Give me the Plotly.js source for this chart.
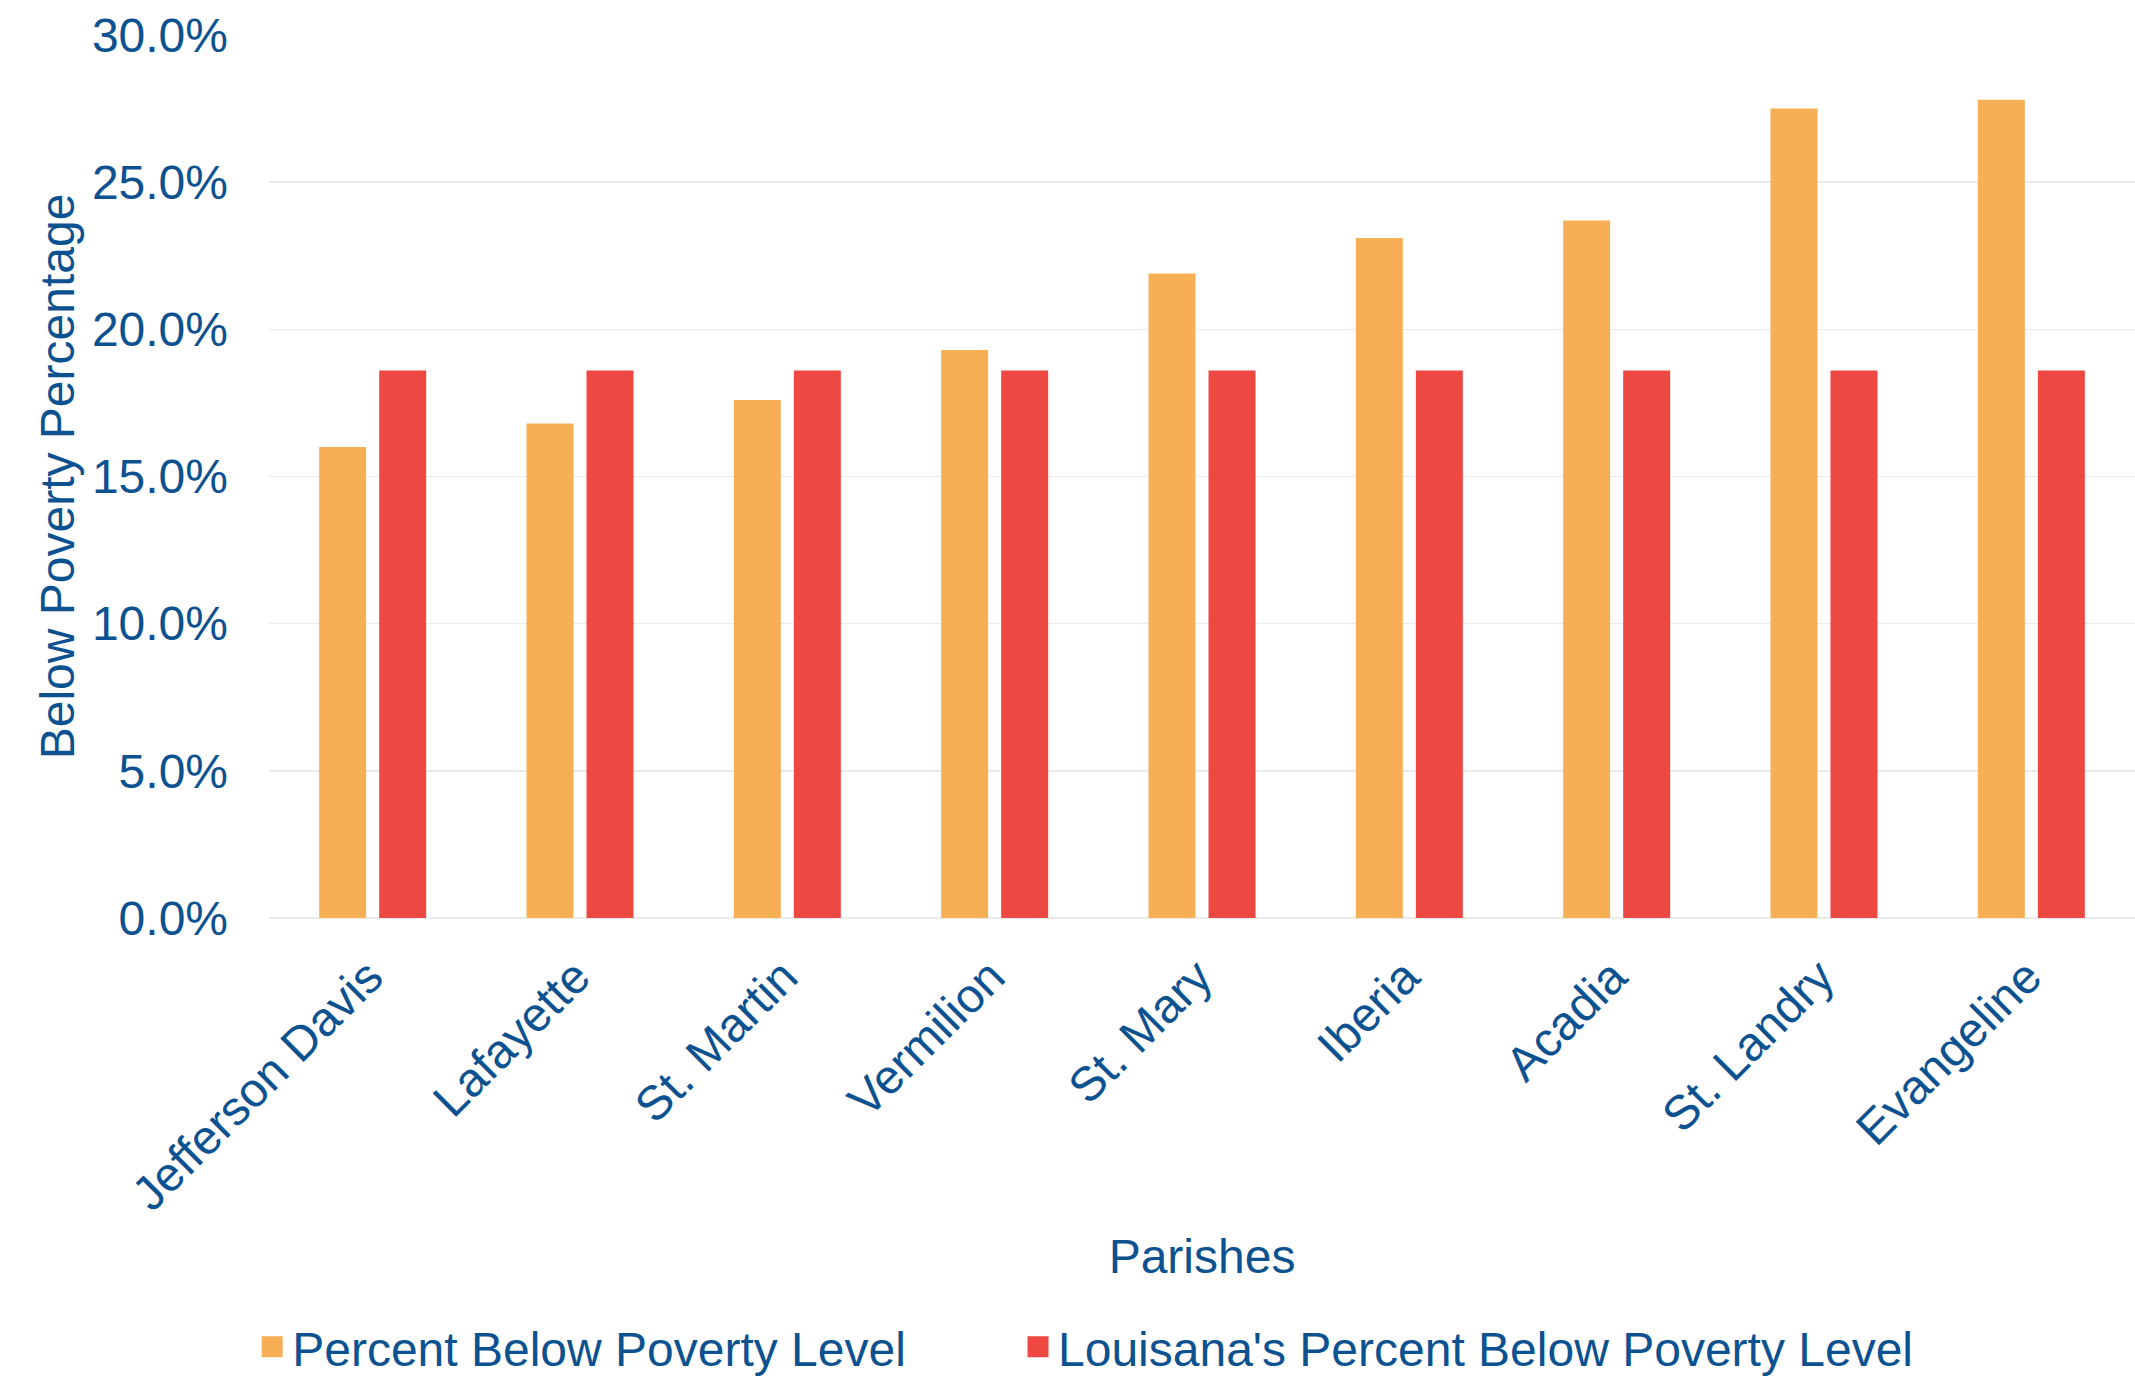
<!DOCTYPE html>
<html>
<head>
<meta charset="utf-8">
<script src="https://cdn.plot.ly/plotly-3.0.1.min.js"></script>
<style>html,body{margin:0;padding:0;background:#fff;}#chart{width:2135px;height:1377px;}</style>
</head>
<body>
<div id="chart"></div>
<script>
var parishes = ["Jefferson Davis", "Lafayette", "St. Martin", "Vermilion", "St. Mary", "Iberia", "Acadia", "St. Landry", "Evangeline"];
var parishPoverty = [16.0, 16.8, 17.6, 19.3, 21.9, 23.1, 23.7, 27.5, 27.8];
var louisianaPoverty = [18.6, 18.6, 18.6, 18.6, 18.6, 18.6, 18.6, 18.6, 18.6];
var seriesNames = ["Percent Below Poverty Level", "Louisana's Percent Below Poverty Level"];
var yTicks = [0, 5, 10, 15, 20, 25, 30];
var yTickText = yTicks.map(function (v) { return v.toFixed(1) + "%"; });

var textColor = "#0d5290";
var fontFam = "Liberation Sans, Arial, sans-serif";
var fontSize = 48;
var orange = "#F7AF55";
var red = "#EE4842";

var traces = [
  {type: "bar", x: parishes, y: parishPoverty, name: seriesNames[0],
   marker: {color: orange}, showlegend: false, hoverinfo: "skip"},
  {type: "bar", x: parishes, y: louisianaPoverty, name: seriesNames[1],
   marker: {color: red}, showlegend: false, hoverinfo: "skip"},
  {type: "scatter", mode: "markers", x: [null], y: [null], name: seriesNames[0],
   legend: "legend",
   marker: {symbol: "square", size: 16, color: orange, line: {color: orange, width: 5}}},
  {type: "scatter", mode: "markers", x: [null], y: [null], name: seriesNames[1],
   legend: "legend2",
   marker: {symbol: "square", size: 16, color: red, line: {color: red, width: 5}}}
];

var baseFont = {family: fontFam, size: fontSize, color: textColor};

var layout = {
  width: 2135, height: 1377,
  margin: {l: 269, r: 0, t: 35, b: 459, autoexpand: false},
  paper_bgcolor: "#ffffff", plot_bgcolor: "#ffffff",
  font: baseFont,
  barmode: "group",
  bargap: 0.421,
  bargroupgap: 0.217,
  showlegend: true,
  legend: {orientation: "h", x: -0.009, xanchor: "left", y: -0.486, yanchor: "middle",
           bgcolor: "rgba(0,0,0,0)", font: baseFont},
  legend2: {orientation: "h", x: 0.4014, xanchor: "left", y: -0.486, yanchor: "middle",
           bgcolor: "rgba(0,0,0,0)", font: baseFont},
  xaxis: {
    type: "category",
    categoryarray: parishes,
    tickangle: -45,
    ticks: "", showline: false, showgrid: false,
    ticklabelstandoff: 20,
    ticklabelshift: -4,
    tickfont: baseFont,
    title: {text: "Parishes", font: baseFont, standoff: 20},
    automargin: false
  },
  yaxis: {
    range: [0, 30],
    tickvals: yTicks,
    ticktext: yTickText,
    ticks: "",
    ticklabelstandoff: 40,
    showgrid: true, gridcolor: "#ebebeb", gridwidth: 1.5,
    zeroline: true, zerolinecolor: "#ebebeb", zerolinewidth: 1.5,
    showline: false,
    tickfont: baseFont,
    title: {text: "Below Poverty Percentage", font: baseFont, standoff: 2},
    automargin: false
  }
};

Plotly.newPlot("chart", traces, layout, {staticPlot: true, displayModeBar: false});
</script>
</body>
</html>
